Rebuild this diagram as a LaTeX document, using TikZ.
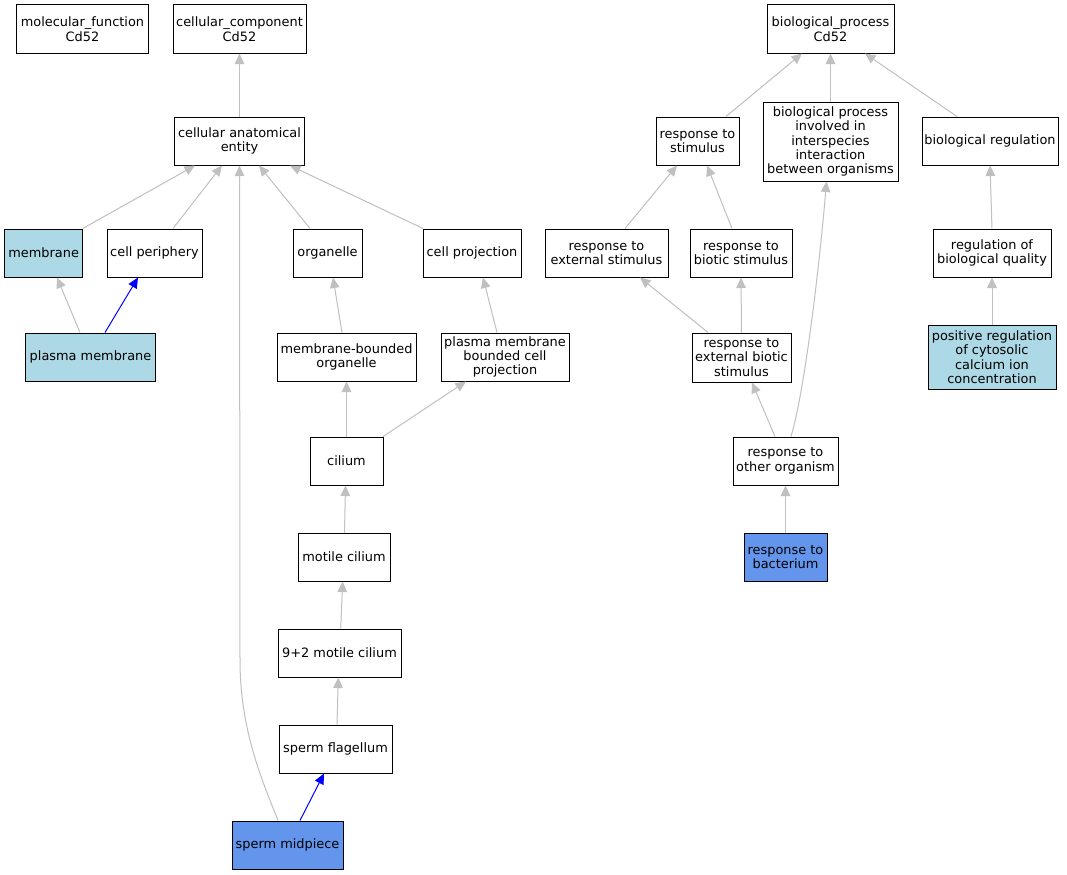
\documentclass[tikz,border=0pt]{standalone}
\usepackage{fontspec}
\setmainfont{DejaVu Sans}
\usetikzlibrary{arrows.meta}
\definecolor{edgegray}{HTML}{C0C0C0}
\definecolor{termblue}{HTML}{ADD8E6}
\definecolor{cornflower}{HTML}{6495ED}
\tikzset{
  term/.style={draw, line width=1bp, fill=white, align=center, inner sep=1bp,
    minimum height=48bp, font=\fontsize{12.9bp}{14.4bp}\selectfont},
  isa/.style={color=edgegray, line width=1bp, -{Triangle[length=10.5bp,width=9.5bp]}},
  partof/.style={isa, color=blue},
}
\begin{document}
\begin{tikzpicture}[x=1bp,y=-1bp]
    \useasboundingbox[fill=white] (0,0) rectangle (1067,875);
    % roots
    \node[term, minimum width=131bp] (mf) at (82.5,29) {molecular\_function\\Cd52};
    \node[term, minimum width=133bp] (cc) at (239.5,29) {cellular\_component\\Cd52};
    \node[term, minimum width=127bp] (bp) at (830.5,29) {biological\_process\\Cd52};
    % cellular component
    \node[term, minimum width=130bp] (cae) at (239.5,141) {cellular anatomical\\entity};
    \node[term, minimum width=78bp, fill=termblue] (membrane) at (43.7,253) {membrane};
    \node[term, minimum width=95bp] (cellper) at (154.5,253) {cell periphery};
    \node[term, minimum width=69bp] (organelle) at (327.5,253) {organelle};
    \node[term, minimum width=98bp] (cellproj) at (472,253) {cell projection};
    \node[term, minimum width=129bp, fill=termblue] (plasmamem) at (90.5,357) {plasma membrane};
    \node[term, minimum width=139bp] (mbo) at (346.5,357) {membrane-bounded\\organelle};
    \node[term, minimum width=128bp] (pmbcp) at (505,357) {plasma membrane\\bounded cell\\projection};
    \node[term, minimum width=73bp] (cilium) at (346.5,461) {cilium};
    \node[term, minimum width=92bp] (motile) at (344,557) {motile cilium};
    \node[term, minimum width=123bp] (ninetwo) at (339.5,653) {9+2 motile cilium};
    \node[term, minimum width=113bp] (flagellum) at (335.5,749) {sperm flagellum};
    \node[term, minimum width=111bp, fill=cornflower] (midpiece) at (287.5,845) {sperm midpiece};
    % biological process
    \node[term, minimum width=83bp] (rstim) at (697.5,141) {response to\\stimulus};
    \node[term, minimum width=135bp, minimum height=79bp] (bpi) at (830.5,141.5) {biological process\\involved in\\interspecies\\interaction\\between organisms};
    \node[term, minimum width=136bp] (bioreg) at (990,141) {biological regulation};
    \node[term, minimum width=123bp] (rext) at (606.5,253) {response to\\external stimulus};
    \node[term, minimum width=102bp] (rbiotic) at (741,253) {response to\\biotic stimulus};
    \node[term, minimum width=118bp] (rbq) at (992,253) {regulation of\\biological quality};
    \node[term, minimum width=99bp, minimum height=49bp] (rebs) at (741.5,357.5) {response to\\external biotic\\stimulus};
    \node[term, minimum width=128bp, minimum height=64bp, fill=termblue] (posreg) at (992,357) {positive regulation\\of cytosolic\\calcium ion\\concentration};
    \node[term, minimum width=105bp] (roo) at (785.5,461) {response to\\other organism};
    \node[term, minimum width=83bp, fill=cornflower] (bact) at (785.5,557) {response to\\bacterium};
    % is_a edges: child/offset/parent/offset
    \foreach \src/\ds/\dst/\dd in {cae/0/cc/0, membrane/39/cae/-44.5, cellper/18.5/cae/-17.5,
      organelle/-17.5/cae/19.5, cellproj/-49/cae/50.5, plasmamem/-10.5/membrane/13.3,
      mbo/-4.5/organelle/5.5, pmbcp/-8/cellproj/11, cilium/0/mbo/0, cilium/36.5/pmbcp/-39,
      motile/0.5/cilium/-1, ninetwo/1.2/motile/-1.3, flagellum/1.5/ninetwo/-1.2,
      rstim/28.5/bp/-28.5, bpi/0/bp/0, bioreg/-33/bp/34.5, rext/18.5/rstim/-20.5,
      rbiotic/-9/rstim/9.5, rebs/-33.5/rext/33.5, rebs/0/rbiotic/0, roo/-10.5/rebs/10.5,
      bact/0/roo/0, rbq/0/bioreg/0, posreg/0/rbq/0}
      \draw[isa] ([xshift=\ds bp]\src.north) -- ([xshift=\dd bp]\dst.south);
    \draw[isa] ([xshift=-9.5bp]midpiece.north) .. controls (262,780) and (240,730) .. (240,660) -- (cae.south);
    \draw[isa] ([xshift=5.5bp]roo.north) .. controls (805,390) and (820,260) .. ([xshift=-4bp]bpi.south);
    % part_of edges
    \draw[partof] ([xshift=14.5bp]plasmamem.north) -- ([xshift=-16.5bp]cellper.south);
    \draw[partof] ([xshift=12.5bp]midpiece.north) -- ([xshift=-11.5bp]flagellum.south);
\end{tikzpicture}
\end{document}
